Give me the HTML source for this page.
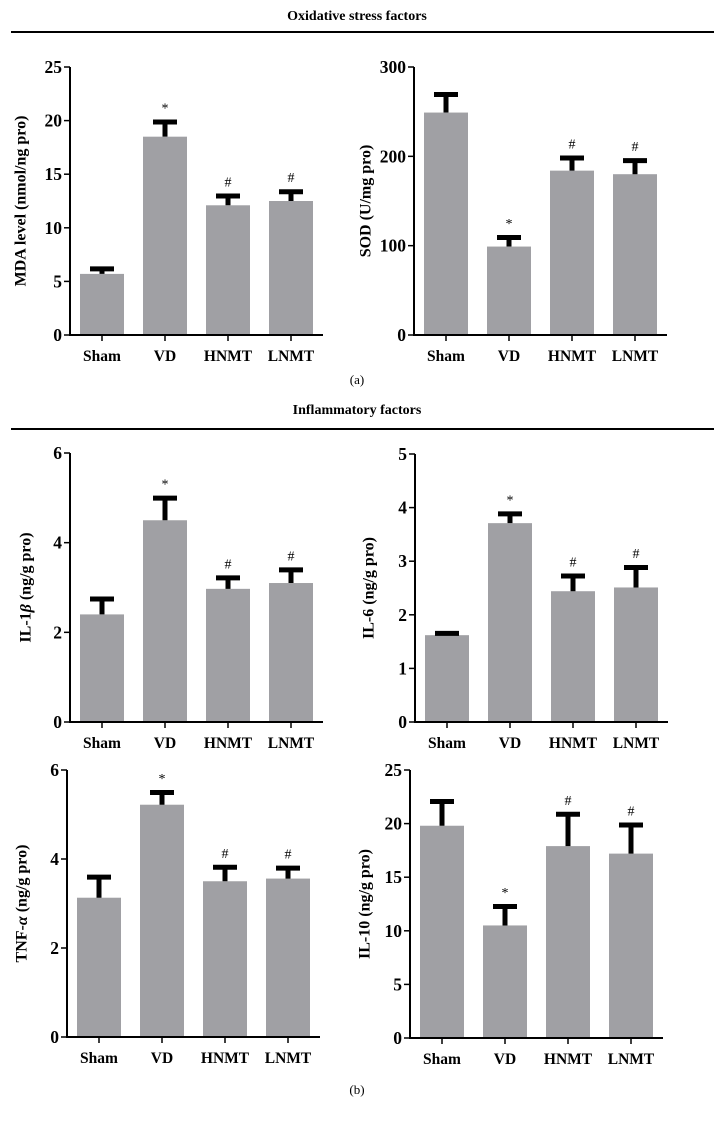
<!DOCTYPE html>
<html><head><meta charset="utf-8">
<style>
html,body{margin:0;padding:0;background:#fff;}
svg{display:block;font-family:"Liberation Serif",serif;}
</style></head>
<body>
<svg id="fig" width="714" height="1121" viewBox="0 0 714 1121">
<text x="357" y="20" text-anchor="middle" font-size="14" font-weight="bold">Oxidative stress factors</text>
<rect x="11" y="31" width="703" height="2" fill="#000"/>
<text x="357" y="384" text-anchor="middle" font-size="13">(a)</text>
<text x="357" y="414" text-anchor="middle" font-size="14" font-weight="bold">Inflammatory factors</text>
<rect x="11" y="428" width="703" height="2" fill="#000"/>
<text x="357" y="1094" text-anchor="middle" font-size="13">(b)</text>
</svg>
<script>
const categories = ["Sham","VD","HNMT","LNMT"];
const markers = ["","*","#","#"];
const mdaValues = [5.7,18.5,12.1,12.5];
const mdaErrTop = [6.4,20.1,13.2,13.6];
const mdaTicks = [0,5,10,15,20,25];
const sodValues = [249,99,184,180];
const sodErrTop = [272,112,201,198];
const sodTicks = [0,100,200,300];
const il1bValues = [2.4,4.5,2.97,3.1];
const il1bErrTop = [2.8,5.05,3.27,3.45];
const il1bTicks = [0,2,4,6];
const il6Values = [1.62,3.71,2.44,2.51];
const il6ErrTop = [1.7,3.93,2.77,2.93];
const il6Ticks = [0,1,2,3,4,5];
const tnfValues = [3.13,5.22,3.5,3.56];
const tnfErrTop = [3.65,5.55,3.87,3.85];
const tnfTicks = [0,2,4,6];
const il10Values = [19.8,10.5,17.9,17.2];
const il10ErrTop = [22.3,12.5,21.1,20.1];
const il10Ticks = [0,5,10,15,20,25];

const NS = "http://www.w3.org/2000/svg";
const svg = document.getElementById("fig");
function mk(tag, attrs, parent){
  const e = document.createElementNS(NS, tag);
  for (const k in attrs) e.setAttribute(k, attrs[k]);
  (parent||svg).appendChild(e);
  return e;
}
function chart(name, ax, top, bottom, ticks, values, errTop, title, titleX){
  const g = mk("g", {});
  
  
  const maxV = ticks[ticks.length-1];
  const y = v => bottom - (v/maxV)*(bottom-top);
  const xc = i => ax + 32 + 63*i;
  values.forEach((v,i)=>{
    const b = mk("rect", {x: xc(i)-22, y: y(v), width: 44, height: bottom - y(v), fill: "#a0a0a4"}, g);
    
    
    const e = mk("path", {d: `M${xc(i)} ${y(v)}V${y(errTop[i])}M${xc(i)-12} ${y(errTop[i])+2.5}H${xc(i)+12}`, stroke: "#000", "stroke-width": 5, fill: "none"}, g);
    
    
    if (markers[i]) {
      const m = mk("text", {x: xc(i), y: y(errTop[i]) - 7, "text-anchor": "middle", "font-size": 14}, g);
      m.textContent = markers[i];
      
      
    }
    const tk = mk("line", {x1: xc(i), x2: xc(i), y1: bottom, y2: bottom+6, stroke: "#000", "stroke-width": 1.5}, g);
    
    
    const lb = mk("text", {x: xc(i), y: bottom+26, "text-anchor": "middle", "font-size": 15.5, "font-weight": "bold"}, g);
    lb.textContent = categories[i];
    
    
  });
  const axis = mk("path", {d: `M${ax} ${top}V${bottom}H${ax+253}`, stroke: "#000", "stroke-width": 2, fill: "none"}, g);
  
  
  ticks.forEach(t=>{
    const tl = mk("line", {x1: ax-6, x2: ax, y1: y(t), y2: y(t), stroke: "#000", "stroke-width": 1.5}, g);
    
    
    const tx = mk("text", {x: ax-8, y: y(t)+6, "text-anchor": "end", "font-size": 17.5, "font-weight": "bold"}, g);
    tx.textContent = t;
    
    
  });
  const yt = mk("text", {x: titleX, y: (top+bottom)/2, "text-anchor": "middle", "font-size": 16, "font-weight": "bold", transform: `rotate(-90 ${titleX} ${(top+bottom)/2})`, "dominant-baseline": "middle"}, g);
  yt.innerHTML = title;
  
  
}
chart("mda", 70, 67, 335, mdaTicks, mdaValues, mdaErrTop, "MDA level (nmol/ng pro)", 22);
chart("sod", 414, 67, 335, sodTicks, sodValues, sodErrTop, "SOD (U/mg pro)", 367);
chart("il1b", 70, 453, 722, il1bTicks, il1bValues, il1bErrTop, 'IL-1<tspan font-style="italic">β</tspan> (ng/g pro)', 27);
chart("il6", 415, 454, 722, il6Ticks, il6Values, il6ErrTop, "IL-6 (ng/g pro)", 370);
chart("tnf", 67, 770, 1037, tnfTicks, tnfValues, tnfErrTop, 'TNF-<tspan font-style="italic">α</tspan> (ng/g pro)', 23);
chart("il10", 410, 770, 1038, il10Ticks, il10Values, il10ErrTop, "IL-10 (ng/g pro)", 366);
</script>
</body></html>
